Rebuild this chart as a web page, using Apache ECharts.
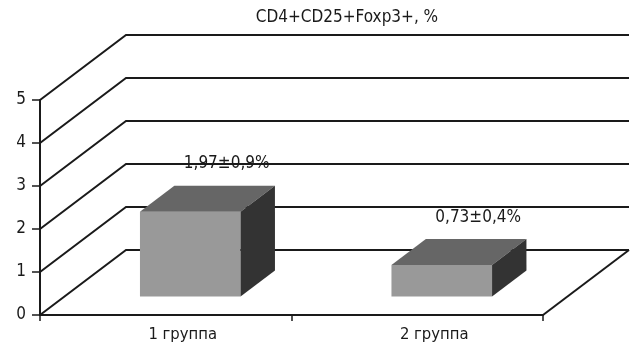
<!DOCTYPE html>
<html>
<head>
<meta charset="utf-8">
<script src="https://cdn.jsdelivr.net/npm/echarts@6/dist/echarts.min.js"></script>
<style>
  html, body { margin: 0; padding: 0; background: #fff; }
  #chart { width: 635px; height: 348px; }
</style>
</head>
<body>
<div id="chart"></div>
<script>
// Chart content
const titleText = 'CD4+CD25+Foxp3+, %';
const categories = ['1 группа', '2 группа'];
const means = [1.97, 0.73];
const deviations = [0.9, 0.4];
const yTicks = [0, 1, 2, 3, 4, 5];

// Styling
const FONT = '"DejaVu Sans Condensed", "Liberation Sans Narrow", "Arial Narrow", sans-serif';
const INK = '#1a1a1a';
const FACE_FRONT = '#999999', FACE_TOP = '#666666', FACE_SIDE = '#333333';
// oblique projection of the chart depth (pixels)
const DEPTH_X = 86, DEPTH_Y = -65;
// bar placement inside the depth and inside its category band
const BAR_FRONT = 0.285, BAR_DEPTH = 0.4, BAR_WIDTH = 0.4;

const fmt = v => String(v).replace('.', ',');

const chart = echarts.init(document.getElementById('chart'), null, { renderer: 'canvas' });

chart.setOption({
  animation: false,
  backgroundColor: '#fff',
  textStyle: { fontFamily: FONT },
  graphic: [{
    type: 'text',
    x: 347, y: 18,
    style: {
      text: titleText,
      font: '17px ' + FONT,
      fill: INK,
      textAlign: 'center',
      textVerticalAlign: 'middle'
    }
  }],
  grid: { left: 40, right: 92, top: 100, bottom: 33 },
  xAxis: {
    type: 'category',
    data: categories,
    boundaryGap: true,
    axisLine: { show: true, lineStyle: { color: INK, width: 2 } },
    axisTick: { show: true, length: 6, lineStyle: { color: INK, width: 1.5 } },
    axisLabel: {
      color: INK, fontSize: 16.5, fontFamily: FONT, margin: 11,
      padding: [0, 0, 0, 34]
    },
    splitLine: { show: false }
  },
  yAxis: {
    type: 'value',
    min: 0, max: 5, interval: 1,
    axisLine: { show: true, lineStyle: { color: INK, width: 2 } },
    axisTick: { show: true, length: 8, lineStyle: { color: INK, width: 1.5 } },
    axisLabel: { color: INK, fontSize: 17, fontFamily: FONT, margin: 14 },
    splitLine: { show: false }
  },
  series: [
    {
      // back wall gridlines, side diagonals and floor edge
      type: 'custom',
      silent: true,
      z: 1,
      data: yTicks.map(v => [0, v]),
      encode: { x: 0, y: 1 },
      renderItem(params, api) {
        const v = api.value(1);
        const band = api.size([1, 0])[0];
        const first = api.coord([0, v]);
        const last = api.coord([categories.length - 1, v]);
        const xL = first[0] - band / 2;
        const xR = last[0] + band / 2;
        const y = first[1];
        const yBack = Math.round(y + DEPTH_Y);
        const children = [{
          type: 'polyline',
          shape: { points: [[xL, y], [xL + DEPTH_X, yBack], [xR + DEPTH_X, yBack]] },
          style: { stroke: INK, lineWidth: 2, fill: null, lineJoin: 'miter' }
        }];
        if (v === 0) {
          children.push({
            type: 'line',
            shape: { x1: xR, y1: y, x2: xR + DEPTH_X, y2: yBack },
            style: { stroke: INK, lineWidth: 2 }
          });
        }
        return { type: 'group', children };
      }
    },
    {
      // 3D bars with value labels
      type: 'custom',
      silent: true,
      z: 5,
      data: means.map((m, i) => [i, m, deviations[i]]),
      encode: { x: 0, y: 1 },
      renderItem(params, api) {
        const i = api.value(0);
        const v = api.value(1);
        const dev = api.value(2);
        const band = api.size([1, 0])[0];
        const base = api.coord([i, 0]);
        const top = api.coord([i, v]);
        const w = band * BAR_WIDTH;
        const ox = DEPTH_X * BAR_FRONT, oy = DEPTH_Y * BAR_FRONT;
        const bx = DEPTH_X * BAR_DEPTH, by = DEPTH_Y * BAR_DEPTH;
        const x1 = base[0] - w / 2 + ox, x2 = x1 + w;
        const yb = base[1] + oy, yt = top[1] + oy;
        return {
          type: 'group',
          children: [
            {
              type: 'polygon',
              shape: { points: [[x1, yt], [x2, yt], [x2, yb], [x1, yb]] },
              style: { fill: FACE_FRONT }
            },
            {
              type: 'polygon',
              shape: { points: [[x1, yt], [x2, yt], [x2 + bx, yt + by], [x1 + bx, yt + by]] },
              style: { fill: FACE_TOP }
            },
            {
              type: 'polygon',
              shape: { points: [[x2, yt], [x2 + bx, yt + by], [x2 + bx, yb + by], [x2, yb]] },
              style: { fill: FACE_SIDE }
            },
            {
              type: 'text',
              x: (x1 + x2) / 2 + bx + 2,
              y: yt + by - 22,
              style: {
                text: fmt(v) + '±' + fmt(dev) + '%',
                font: '17px ' + FONT,
                fill: INK,
                textAlign: 'center',
                textVerticalAlign: 'middle'
              }
            }
          ]
        };
      }
    }
  ]
});
</script>
</body>
</html>
